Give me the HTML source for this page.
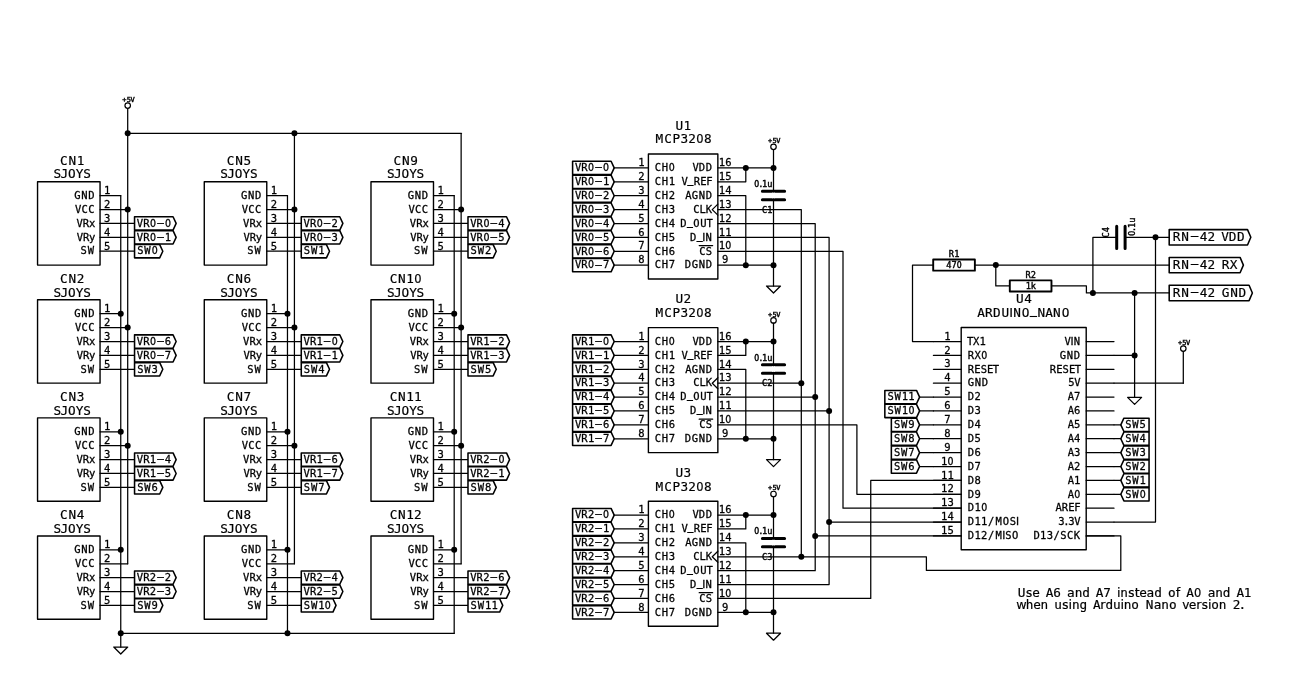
<!DOCTYPE html>
<html><head><meta charset="utf-8"><title>Joystick ADC schematic</title>
<style>
html,body{margin:0;padding:0;background:#fff;}
body{width:1300px;height:700px;overflow:hidden;}
svg{display:block;will-change:transform;filter:grayscale(1);}
.t{font-family:"DejaVu Sans Mono","Liberation Mono",monospace;fill:#000;text-anchor:middle;stroke:#000;stroke-width:0.28px;}
.b{stroke-width:0.4px;}
.n{stroke-width:0.18px;}
.z{font-family:"DejaVu Sans",sans-serif;}
.zb{font-family:"DejaVu Sans Condensed","DejaVu Sans",sans-serif;}
.u{stroke:#000;stroke-width:0.6px;}
.w{fill:none;stroke:#000;stroke-width:1.25px;stroke-linecap:round;stroke-linejoin:round;}
.bx{fill:none;stroke:#000;stroke-width:1.4px;stroke-linejoin:round;}
.rs{fill:#fff;stroke:#000;stroke-width:1.9px;stroke-linejoin:round;}
.lb{fill:#fff;stroke:#000;stroke-width:1.55px;stroke-linejoin:round;}
.cap{fill:none;stroke:#000;stroke-width:3px;stroke-linecap:round;}
.j{fill:#000;stroke:none;}
.pc{fill:#fff;stroke:#000;stroke-width:1.2px;}
</style></head>
<body>
<svg width="1300" height="700" viewBox="0 0 1300 700">
<rect x="0" y="0" width="1300" height="700" fill="#fff"/>
<rect class="bx" x="37.55" y="181.75" width="62.5" height="83.34"/>
<text class="t n" transform="translate(72.15 164.55)" font-size="12.71" x="-8.21 0.2 8.4" y="0">CN1</text>
<text class="t n" transform="translate(72.15 178.45)" font-size="12.71" x="-14.85 -7.82 -0.39 7.43 14.85" y="0">SJOYS</text>
<text class="t" transform="translate(94.85 195.65)" font-size="10.5" x="-17.43 -10.42 -3.42" y="3.28">GND</text>
<text class="t" transform="translate(107.25 194.15)" font-size="10.5" x="0" y="0">1</text>
<path class="w" d="M100.05 195.65 L120.75 195.65"/>
<text class="t" transform="translate(94.85 209.54)" font-size="10.5" x="-16.61 -10.26 -3.42" y="3.28">VCC</text>
<text class="t" transform="translate(107.25 208.04)" font-size="10.5" x="0" y="0">2</text>
<path class="w" d="M100.05 209.54 L127.7 209.54"/>
<circle class="j" cx="127.7" cy="209.54" r="3"/>
<text class="t" transform="translate(94.85 223.43)" font-size="10.5" x="-15.31 -8.96 -2.77" y="3.28">VRx</text>
<text class="t" transform="translate(107.25 221.93)" font-size="10.5" x="0" y="0">3</text>
<path class="w" d="M100.05 223.43 L134.55 223.43"/>
<path class="lb" d="M134.55 216.78 L173.05 216.78 L176.15 223.43 L173.05 230.08 L134.55 230.08 Z"/>
<text class="t" transform="translate(137.05 223.43)" font-size="10.5" x="2.93 9.28 15.96 23.45 30.95" y="3.28 3.28 3.28 2.39 3.28">VR<tspan class="zb">0</tspan><tspan textLength="14.67" lengthAdjust="spacingAndGlyphs">-</tspan><tspan class="zb">0</tspan></text>
<text class="t" transform="translate(94.85 237.32)" font-size="10.5" x="-14.98 -8.63 -2.61" y="3.28">VRy</text>
<text class="t" transform="translate(107.25 235.82)" font-size="10.5" x="0" y="0">4</text>
<path class="w" d="M100.05 237.32 L134.55 237.32"/>
<path class="lb" d="M134.55 230.67 L173.05 230.67 L176.15 237.32 L173.05 243.97 L134.55 243.97 Z"/>
<text class="t" transform="translate(137.05 237.32)" font-size="10.5" x="2.93 9.28 15.96 23.45 30.95" y="3.28 3.28 3.28 2.39 3.28">VR<tspan class="zb">0</tspan><tspan textLength="14.67" lengthAdjust="spacingAndGlyphs">-</tspan>1</text>
<text class="t" transform="translate(94.85 251.21)" font-size="10.5" x="-11.08 -3.91" y="3.28">SW</text>
<text class="t" transform="translate(107.25 249.71)" font-size="10.5" x="0" y="0">5</text>
<path class="w" d="M100.05 251.21 L134.55 251.21"/>
<path class="lb" d="M134.55 244.56 L159.7 244.56 L162.8 251.21 L159.7 257.86 L134.55 257.86 Z"/>
<text class="t" transform="translate(137.05 251.21)" font-size="10.5" x="3.26 10.42 17.59" y="3.28">SW<tspan class="zb">0</tspan></text>
<rect class="bx" x="37.55" y="299.82" width="62.5" height="83.34"/>
<text class="t n" transform="translate(72.15 282.62)" font-size="12.71" x="-8.21 0.2 8.4" y="0">CN2</text>
<text class="t n" transform="translate(72.15 296.52)" font-size="12.71" x="-14.85 -7.82 -0.39 7.43 14.85" y="0">SJOYS</text>
<text class="t" transform="translate(94.85 313.72)" font-size="10.5" x="-17.43 -10.42 -3.42" y="3.28">GND</text>
<text class="t" transform="translate(107.25 312.22)" font-size="10.5" x="0" y="0">1</text>
<path class="w" d="M100.05 313.72 L120.75 313.72"/>
<circle class="j" cx="120.75" cy="313.72" r="3"/>
<text class="t" transform="translate(94.85 327.61)" font-size="10.5" x="-16.61 -10.26 -3.42" y="3.28">VCC</text>
<text class="t" transform="translate(107.25 326.11)" font-size="10.5" x="0" y="0">2</text>
<path class="w" d="M100.05 327.61 L127.7 327.61"/>
<circle class="j" cx="127.7" cy="327.61" r="3"/>
<text class="t" transform="translate(94.85 341.5)" font-size="10.5" x="-15.31 -8.96 -2.77" y="3.28">VRx</text>
<text class="t" transform="translate(107.25 340)" font-size="10.5" x="0" y="0">3</text>
<path class="w" d="M100.05 341.5 L134.55 341.5"/>
<path class="lb" d="M134.55 334.85 L173.05 334.85 L176.15 341.5 L173.05 348.15 L134.55 348.15 Z"/>
<text class="t" transform="translate(137.05 341.5)" font-size="10.5" x="2.93 9.28 15.96 23.45 30.95" y="3.28 3.28 3.28 2.39 3.28">VR<tspan class="zb">0</tspan><tspan textLength="14.67" lengthAdjust="spacingAndGlyphs">-</tspan>6</text>
<text class="t" transform="translate(94.85 355.39)" font-size="10.5" x="-14.98 -8.63 -2.61" y="3.28">VRy</text>
<text class="t" transform="translate(107.25 353.89)" font-size="10.5" x="0" y="0">4</text>
<path class="w" d="M100.05 355.39 L134.55 355.39"/>
<path class="lb" d="M134.55 348.74 L173.05 348.74 L176.15 355.39 L173.05 362.04 L134.55 362.04 Z"/>
<text class="t" transform="translate(137.05 355.39)" font-size="10.5" x="2.93 9.28 15.96 23.45 30.95" y="3.28 3.28 3.28 2.39 3.28">VR<tspan class="zb">0</tspan><tspan textLength="14.67" lengthAdjust="spacingAndGlyphs">-</tspan>7</text>
<text class="t" transform="translate(94.85 369.28)" font-size="10.5" x="-11.08 -3.91" y="3.28">SW</text>
<text class="t" transform="translate(107.25 367.78)" font-size="10.5" x="0" y="0">5</text>
<path class="w" d="M100.05 369.28 L134.55 369.28"/>
<path class="lb" d="M134.55 362.63 L159.7 362.63 L162.8 369.28 L159.7 375.93 L134.55 375.93 Z"/>
<text class="t" transform="translate(137.05 369.28)" font-size="10.5" x="3.26 10.42 17.59" y="3.28">SW3</text>
<rect class="bx" x="37.55" y="417.89" width="62.5" height="83.34"/>
<text class="t n" transform="translate(72.15 400.69)" font-size="12.71" x="-8.21 0.2 8.4" y="0">CN3</text>
<text class="t n" transform="translate(72.15 414.59)" font-size="12.71" x="-14.85 -7.82 -0.39 7.43 14.85" y="0">SJOYS</text>
<text class="t" transform="translate(94.85 431.79)" font-size="10.5" x="-17.43 -10.42 -3.42" y="3.28">GND</text>
<text class="t" transform="translate(107.25 430.29)" font-size="10.5" x="0" y="0">1</text>
<path class="w" d="M100.05 431.79 L120.75 431.79"/>
<circle class="j" cx="120.75" cy="431.79" r="3"/>
<text class="t" transform="translate(94.85 445.68)" font-size="10.5" x="-16.61 -10.26 -3.42" y="3.28">VCC</text>
<text class="t" transform="translate(107.25 444.18)" font-size="10.5" x="0" y="0">2</text>
<path class="w" d="M100.05 445.68 L127.7 445.68"/>
<circle class="j" cx="127.7" cy="445.68" r="3"/>
<text class="t" transform="translate(94.85 459.57)" font-size="10.5" x="-15.31 -8.96 -2.77" y="3.28">VRx</text>
<text class="t" transform="translate(107.25 458.07)" font-size="10.5" x="0" y="0">3</text>
<path class="w" d="M100.05 459.57 L134.55 459.57"/>
<path class="lb" d="M134.55 452.92 L173.05 452.92 L176.15 459.57 L173.05 466.22 L134.55 466.22 Z"/>
<text class="t" transform="translate(137.05 459.57)" font-size="10.5" x="2.93 9.28 15.96 23.45 30.95" y="3.28 3.28 3.28 2.39 3.28">VR1<tspan textLength="14.67" lengthAdjust="spacingAndGlyphs">-</tspan>4</text>
<text class="t" transform="translate(94.85 473.46)" font-size="10.5" x="-14.98 -8.63 -2.61" y="3.28">VRy</text>
<text class="t" transform="translate(107.25 471.96)" font-size="10.5" x="0" y="0">4</text>
<path class="w" d="M100.05 473.46 L134.55 473.46"/>
<path class="lb" d="M134.55 466.81 L173.05 466.81 L176.15 473.46 L173.05 480.11 L134.55 480.11 Z"/>
<text class="t" transform="translate(137.05 473.46)" font-size="10.5" x="2.93 9.28 15.96 23.45 30.95" y="3.28 3.28 3.28 2.39 3.28">VR1<tspan textLength="14.67" lengthAdjust="spacingAndGlyphs">-</tspan>5</text>
<text class="t" transform="translate(94.85 487.35)" font-size="10.5" x="-11.08 -3.91" y="3.28">SW</text>
<text class="t" transform="translate(107.25 485.85)" font-size="10.5" x="0" y="0">5</text>
<path class="w" d="M100.05 487.35 L134.55 487.35"/>
<path class="lb" d="M134.55 480.7 L159.7 480.7 L162.8 487.35 L159.7 494 L134.55 494 Z"/>
<text class="t" transform="translate(137.05 487.35)" font-size="10.5" x="3.26 10.42 17.59" y="3.28">SW6</text>
<rect class="bx" x="37.55" y="535.96" width="62.5" height="83.34"/>
<text class="t n" transform="translate(72.15 518.76)" font-size="12.71" x="-8.21 0.2 8.4" y="0">CN4</text>
<text class="t n" transform="translate(72.15 532.66)" font-size="12.71" x="-14.85 -7.82 -0.39 7.43 14.85" y="0">SJOYS</text>
<text class="t" transform="translate(94.85 549.86)" font-size="10.5" x="-17.43 -10.42 -3.42" y="3.28">GND</text>
<text class="t" transform="translate(107.25 548.36)" font-size="10.5" x="0" y="0">1</text>
<path class="w" d="M100.05 549.86 L120.75 549.86"/>
<circle class="j" cx="120.75" cy="549.86" r="3"/>
<text class="t" transform="translate(94.85 563.75)" font-size="10.5" x="-16.61 -10.26 -3.42" y="3.28">VCC</text>
<text class="t" transform="translate(107.25 562.25)" font-size="10.5" x="0" y="0">2</text>
<path class="w" d="M100.05 563.75 L127.7 563.75"/>
<text class="t" transform="translate(94.85 577.64)" font-size="10.5" x="-15.31 -8.96 -2.77" y="3.28">VRx</text>
<text class="t" transform="translate(107.25 576.14)" font-size="10.5" x="0" y="0">3</text>
<path class="w" d="M100.05 577.64 L134.55 577.64"/>
<path class="lb" d="M134.55 570.99 L173.05 570.99 L176.15 577.64 L173.05 584.29 L134.55 584.29 Z"/>
<text class="t" transform="translate(137.05 577.64)" font-size="10.5" x="2.93 9.28 15.96 23.45 30.95" y="3.28 3.28 3.28 2.39 3.28">VR2<tspan textLength="14.67" lengthAdjust="spacingAndGlyphs">-</tspan>2</text>
<text class="t" transform="translate(94.85 591.53)" font-size="10.5" x="-14.98 -8.63 -2.61" y="3.28">VRy</text>
<text class="t" transform="translate(107.25 590.03)" font-size="10.5" x="0" y="0">4</text>
<path class="w" d="M100.05 591.53 L134.55 591.53"/>
<path class="lb" d="M134.55 584.88 L173.05 584.88 L176.15 591.53 L173.05 598.18 L134.55 598.18 Z"/>
<text class="t" transform="translate(137.05 591.53)" font-size="10.5" x="2.93 9.28 15.96 23.45 30.95" y="3.28 3.28 3.28 2.39 3.28">VR2<tspan textLength="14.67" lengthAdjust="spacingAndGlyphs">-</tspan>3</text>
<text class="t" transform="translate(94.85 605.42)" font-size="10.5" x="-11.08 -3.91" y="3.28">SW</text>
<text class="t" transform="translate(107.25 603.92)" font-size="10.5" x="0" y="0">5</text>
<path class="w" d="M100.05 605.42 L134.55 605.42"/>
<path class="lb" d="M134.55 598.77 L159.7 598.77 L162.8 605.42 L159.7 612.07 L134.55 612.07 Z"/>
<text class="t" transform="translate(137.05 605.42)" font-size="10.5" x="3.26 10.42 17.59" y="3.28">SW9</text>
<path class="w" d="M120.75 195.65 L120.75 647"/>
<path class="w" d="M127.7 108.4 L127.7 563.75"/>
<circle class="j" cx="127.7" cy="133.3" r="3"/>
<circle class="j" cx="120.75" cy="633.3" r="3"/>
<rect class="bx" x="204.27" y="181.75" width="62.5" height="83.34"/>
<text class="t n" transform="translate(238.87 164.55)" font-size="12.71" x="-8.21 0.2 8.4" y="0">CN5</text>
<text class="t n" transform="translate(238.87 178.45)" font-size="12.71" x="-14.85 -7.82 -0.39 7.43 14.85" y="0">SJOYS</text>
<text class="t" transform="translate(261.57 195.65)" font-size="10.5" x="-17.43 -10.42 -3.42" y="3.28">GND</text>
<text class="t" transform="translate(273.97 194.15)" font-size="10.5" x="0" y="0">1</text>
<path class="w" d="M266.77 195.65 L287.47 195.65"/>
<text class="t" transform="translate(261.57 209.54)" font-size="10.5" x="-16.61 -10.26 -3.42" y="3.28">VCC</text>
<text class="t" transform="translate(273.97 208.04)" font-size="10.5" x="0" y="0">2</text>
<path class="w" d="M266.77 209.54 L294.42 209.54"/>
<circle class="j" cx="294.42" cy="209.54" r="3"/>
<text class="t" transform="translate(261.57 223.43)" font-size="10.5" x="-15.31 -8.96 -2.77" y="3.28">VRx</text>
<text class="t" transform="translate(273.97 221.93)" font-size="10.5" x="0" y="0">3</text>
<path class="w" d="M266.77 223.43 L301.27 223.43"/>
<path class="lb" d="M301.27 216.78 L339.77 216.78 L342.87 223.43 L339.77 230.08 L301.27 230.08 Z"/>
<text class="t" transform="translate(303.77 223.43)" font-size="10.5" x="2.93 9.28 15.96 23.45 30.95" y="3.28 3.28 3.28 2.39 3.28">VR<tspan class="zb">0</tspan><tspan textLength="14.67" lengthAdjust="spacingAndGlyphs">-</tspan>2</text>
<text class="t" transform="translate(261.57 237.32)" font-size="10.5" x="-14.98 -8.63 -2.61" y="3.28">VRy</text>
<text class="t" transform="translate(273.97 235.82)" font-size="10.5" x="0" y="0">4</text>
<path class="w" d="M266.77 237.32 L301.27 237.32"/>
<path class="lb" d="M301.27 230.67 L339.77 230.67 L342.87 237.32 L339.77 243.97 L301.27 243.97 Z"/>
<text class="t" transform="translate(303.77 237.32)" font-size="10.5" x="2.93 9.28 15.96 23.45 30.95" y="3.28 3.28 3.28 2.39 3.28">VR<tspan class="zb">0</tspan><tspan textLength="14.67" lengthAdjust="spacingAndGlyphs">-</tspan>3</text>
<text class="t" transform="translate(261.57 251.21)" font-size="10.5" x="-11.08 -3.91" y="3.28">SW</text>
<text class="t" transform="translate(273.97 249.71)" font-size="10.5" x="0" y="0">5</text>
<path class="w" d="M266.77 251.21 L301.27 251.21"/>
<path class="lb" d="M301.27 244.56 L326.42 244.56 L329.52 251.21 L326.42 257.86 L301.27 257.86 Z"/>
<text class="t" transform="translate(303.77 251.21)" font-size="10.5" x="3.26 10.42 17.59" y="3.28">SW1</text>
<rect class="bx" x="204.27" y="299.82" width="62.5" height="83.34"/>
<text class="t n" transform="translate(238.87 282.62)" font-size="12.71" x="-8.21 0.2 8.4" y="0">CN6</text>
<text class="t n" transform="translate(238.87 296.52)" font-size="12.71" x="-14.85 -7.82 -0.39 7.43 14.85" y="0">SJOYS</text>
<text class="t" transform="translate(261.57 313.72)" font-size="10.5" x="-17.43 -10.42 -3.42" y="3.28">GND</text>
<text class="t" transform="translate(273.97 312.22)" font-size="10.5" x="0" y="0">1</text>
<path class="w" d="M266.77 313.72 L287.47 313.72"/>
<circle class="j" cx="287.47" cy="313.72" r="3"/>
<text class="t" transform="translate(261.57 327.61)" font-size="10.5" x="-16.61 -10.26 -3.42" y="3.28">VCC</text>
<text class="t" transform="translate(273.97 326.11)" font-size="10.5" x="0" y="0">2</text>
<path class="w" d="M266.77 327.61 L294.42 327.61"/>
<circle class="j" cx="294.42" cy="327.61" r="3"/>
<text class="t" transform="translate(261.57 341.5)" font-size="10.5" x="-15.31 -8.96 -2.77" y="3.28">VRx</text>
<text class="t" transform="translate(273.97 340)" font-size="10.5" x="0" y="0">3</text>
<path class="w" d="M266.77 341.5 L301.27 341.5"/>
<path class="lb" d="M301.27 334.85 L339.77 334.85 L342.87 341.5 L339.77 348.15 L301.27 348.15 Z"/>
<text class="t" transform="translate(303.77 341.5)" font-size="10.5" x="2.93 9.28 15.96 23.45 30.95" y="3.28 3.28 3.28 2.39 3.28">VR1<tspan textLength="14.67" lengthAdjust="spacingAndGlyphs">-</tspan><tspan class="zb">0</tspan></text>
<text class="t" transform="translate(261.57 355.39)" font-size="10.5" x="-14.98 -8.63 -2.61" y="3.28">VRy</text>
<text class="t" transform="translate(273.97 353.89)" font-size="10.5" x="0" y="0">4</text>
<path class="w" d="M266.77 355.39 L301.27 355.39"/>
<path class="lb" d="M301.27 348.74 L339.77 348.74 L342.87 355.39 L339.77 362.04 L301.27 362.04 Z"/>
<text class="t" transform="translate(303.77 355.39)" font-size="10.5" x="2.93 9.28 15.96 23.45 30.95" y="3.28 3.28 3.28 2.39 3.28">VR1<tspan textLength="14.67" lengthAdjust="spacingAndGlyphs">-</tspan>1</text>
<text class="t" transform="translate(261.57 369.28)" font-size="10.5" x="-11.08 -3.91" y="3.28">SW</text>
<text class="t" transform="translate(273.97 367.78)" font-size="10.5" x="0" y="0">5</text>
<path class="w" d="M266.77 369.28 L301.27 369.28"/>
<path class="lb" d="M301.27 362.63 L326.42 362.63 L329.52 369.28 L326.42 375.93 L301.27 375.93 Z"/>
<text class="t" transform="translate(303.77 369.28)" font-size="10.5" x="3.26 10.42 17.59" y="3.28">SW4</text>
<rect class="bx" x="204.27" y="417.89" width="62.5" height="83.34"/>
<text class="t n" transform="translate(238.87 400.69)" font-size="12.71" x="-8.21 0.2 8.4" y="0">CN7</text>
<text class="t n" transform="translate(238.87 414.59)" font-size="12.71" x="-14.85 -7.82 -0.39 7.43 14.85" y="0">SJOYS</text>
<text class="t" transform="translate(261.57 431.79)" font-size="10.5" x="-17.43 -10.42 -3.42" y="3.28">GND</text>
<text class="t" transform="translate(273.97 430.29)" font-size="10.5" x="0" y="0">1</text>
<path class="w" d="M266.77 431.79 L287.47 431.79"/>
<circle class="j" cx="287.47" cy="431.79" r="3"/>
<text class="t" transform="translate(261.57 445.68)" font-size="10.5" x="-16.61 -10.26 -3.42" y="3.28">VCC</text>
<text class="t" transform="translate(273.97 444.18)" font-size="10.5" x="0" y="0">2</text>
<path class="w" d="M266.77 445.68 L294.42 445.68"/>
<circle class="j" cx="294.42" cy="445.68" r="3"/>
<text class="t" transform="translate(261.57 459.57)" font-size="10.5" x="-15.31 -8.96 -2.77" y="3.28">VRx</text>
<text class="t" transform="translate(273.97 458.07)" font-size="10.5" x="0" y="0">3</text>
<path class="w" d="M266.77 459.57 L301.27 459.57"/>
<path class="lb" d="M301.27 452.92 L339.77 452.92 L342.87 459.57 L339.77 466.22 L301.27 466.22 Z"/>
<text class="t" transform="translate(303.77 459.57)" font-size="10.5" x="2.93 9.28 15.96 23.45 30.95" y="3.28 3.28 3.28 2.39 3.28">VR1<tspan textLength="14.67" lengthAdjust="spacingAndGlyphs">-</tspan>6</text>
<text class="t" transform="translate(261.57 473.46)" font-size="10.5" x="-14.98 -8.63 -2.61" y="3.28">VRy</text>
<text class="t" transform="translate(273.97 471.96)" font-size="10.5" x="0" y="0">4</text>
<path class="w" d="M266.77 473.46 L301.27 473.46"/>
<path class="lb" d="M301.27 466.81 L339.77 466.81 L342.87 473.46 L339.77 480.11 L301.27 480.11 Z"/>
<text class="t" transform="translate(303.77 473.46)" font-size="10.5" x="2.93 9.28 15.96 23.45 30.95" y="3.28 3.28 3.28 2.39 3.28">VR1<tspan textLength="14.67" lengthAdjust="spacingAndGlyphs">-</tspan>7</text>
<text class="t" transform="translate(261.57 487.35)" font-size="10.5" x="-11.08 -3.91" y="3.28">SW</text>
<text class="t" transform="translate(273.97 485.85)" font-size="10.5" x="0" y="0">5</text>
<path class="w" d="M266.77 487.35 L301.27 487.35"/>
<path class="lb" d="M301.27 480.7 L326.42 480.7 L329.52 487.35 L326.42 494 L301.27 494 Z"/>
<text class="t" transform="translate(303.77 487.35)" font-size="10.5" x="3.26 10.42 17.59" y="3.28">SW7</text>
<rect class="bx" x="204.27" y="535.96" width="62.5" height="83.34"/>
<text class="t n" transform="translate(238.87 518.76)" font-size="12.71" x="-8.21 0.2 8.4" y="0">CN8</text>
<text class="t n" transform="translate(238.87 532.66)" font-size="12.71" x="-14.85 -7.82 -0.39 7.43 14.85" y="0">SJOYS</text>
<text class="t" transform="translate(261.57 549.86)" font-size="10.5" x="-17.43 -10.42 -3.42" y="3.28">GND</text>
<text class="t" transform="translate(273.97 548.36)" font-size="10.5" x="0" y="0">1</text>
<path class="w" d="M266.77 549.86 L287.47 549.86"/>
<circle class="j" cx="287.47" cy="549.86" r="3"/>
<text class="t" transform="translate(261.57 563.75)" font-size="10.5" x="-16.61 -10.26 -3.42" y="3.28">VCC</text>
<text class="t" transform="translate(273.97 562.25)" font-size="10.5" x="0" y="0">2</text>
<path class="w" d="M266.77 563.75 L294.42 563.75"/>
<text class="t" transform="translate(261.57 577.64)" font-size="10.5" x="-15.31 -8.96 -2.77" y="3.28">VRx</text>
<text class="t" transform="translate(273.97 576.14)" font-size="10.5" x="0" y="0">3</text>
<path class="w" d="M266.77 577.64 L301.27 577.64"/>
<path class="lb" d="M301.27 570.99 L339.77 570.99 L342.87 577.64 L339.77 584.29 L301.27 584.29 Z"/>
<text class="t" transform="translate(303.77 577.64)" font-size="10.5" x="2.93 9.28 15.96 23.45 30.95" y="3.28 3.28 3.28 2.39 3.28">VR2<tspan textLength="14.67" lengthAdjust="spacingAndGlyphs">-</tspan>4</text>
<text class="t" transform="translate(261.57 591.53)" font-size="10.5" x="-14.98 -8.63 -2.61" y="3.28">VRy</text>
<text class="t" transform="translate(273.97 590.03)" font-size="10.5" x="0" y="0">4</text>
<path class="w" d="M266.77 591.53 L301.27 591.53"/>
<path class="lb" d="M301.27 584.88 L339.77 584.88 L342.87 591.53 L339.77 598.18 L301.27 598.18 Z"/>
<text class="t" transform="translate(303.77 591.53)" font-size="10.5" x="2.93 9.28 15.96 23.45 30.95" y="3.28 3.28 3.28 2.39 3.28">VR2<tspan textLength="14.67" lengthAdjust="spacingAndGlyphs">-</tspan>5</text>
<text class="t" transform="translate(261.57 605.42)" font-size="10.5" x="-11.08 -3.91" y="3.28">SW</text>
<text class="t" transform="translate(273.97 603.92)" font-size="10.5" x="0" y="0">5</text>
<path class="w" d="M266.77 605.42 L301.27 605.42"/>
<path class="lb" d="M301.27 598.77 L332.93 598.77 L336.03 605.42 L332.93 612.07 L301.27 612.07 Z"/>
<text class="t" transform="translate(303.77 605.42)" font-size="10.5" x="3.26 10.42 17.59 24.11" y="3.28">SW1<tspan class="zb">0</tspan></text>
<path class="w" d="M287.47 195.65 L287.47 633.3"/>
<path class="w" d="M294.42 133.3 L294.42 563.75"/>
<circle class="j" cx="294.42" cy="133.3" r="3"/>
<circle class="j" cx="287.47" cy="633.3" r="3"/>
<rect class="bx" x="370.99" y="181.75" width="62.5" height="83.34"/>
<text class="t n" transform="translate(405.59 164.55)" font-size="12.71" x="-8.21 0.2 8.4" y="0">CN9</text>
<text class="t n" transform="translate(405.59 178.45)" font-size="12.71" x="-14.85 -7.82 -0.39 7.43 14.85" y="0">SJOYS</text>
<text class="t" transform="translate(428.3 195.65)" font-size="10.5" x="-17.43 -10.42 -3.42" y="3.28">GND</text>
<text class="t" transform="translate(440.69 194.15)" font-size="10.5" x="0" y="0">1</text>
<path class="w" d="M433.5 195.65 L454.19 195.65"/>
<text class="t" transform="translate(428.3 209.54)" font-size="10.5" x="-16.61 -10.26 -3.42" y="3.28">VCC</text>
<text class="t" transform="translate(440.69 208.04)" font-size="10.5" x="0" y="0">2</text>
<path class="w" d="M433.5 209.54 L461.14 209.54"/>
<circle class="j" cx="461.14" cy="209.54" r="3"/>
<text class="t" transform="translate(428.3 223.43)" font-size="10.5" x="-15.31 -8.96 -2.77" y="3.28">VRx</text>
<text class="t" transform="translate(440.69 221.93)" font-size="10.5" x="0" y="0">3</text>
<path class="w" d="M433.5 223.43 L467.99 223.43"/>
<path class="lb" d="M467.99 216.78 L506.49 216.78 L509.59 223.43 L506.49 230.08 L467.99 230.08 Z"/>
<text class="t" transform="translate(470.49 223.43)" font-size="10.5" x="2.93 9.28 15.96 23.45 30.95" y="3.28 3.28 3.28 2.39 3.28">VR<tspan class="zb">0</tspan><tspan textLength="14.67" lengthAdjust="spacingAndGlyphs">-</tspan>4</text>
<text class="t" transform="translate(428.3 237.32)" font-size="10.5" x="-14.98 -8.63 -2.61" y="3.28">VRy</text>
<text class="t" transform="translate(440.69 235.82)" font-size="10.5" x="0" y="0">4</text>
<path class="w" d="M433.5 237.32 L467.99 237.32"/>
<path class="lb" d="M467.99 230.67 L506.49 230.67 L509.59 237.32 L506.49 243.97 L467.99 243.97 Z"/>
<text class="t" transform="translate(470.49 237.32)" font-size="10.5" x="2.93 9.28 15.96 23.45 30.95" y="3.28 3.28 3.28 2.39 3.28">VR<tspan class="zb">0</tspan><tspan textLength="14.67" lengthAdjust="spacingAndGlyphs">-</tspan>5</text>
<text class="t" transform="translate(428.3 251.21)" font-size="10.5" x="-11.08 -3.91" y="3.28">SW</text>
<text class="t" transform="translate(440.69 249.71)" font-size="10.5" x="0" y="0">5</text>
<path class="w" d="M433.5 251.21 L467.99 251.21"/>
<path class="lb" d="M467.99 244.56 L493.14 244.56 L496.24 251.21 L493.14 257.86 L467.99 257.86 Z"/>
<text class="t" transform="translate(470.49 251.21)" font-size="10.5" x="3.26 10.42 17.59" y="3.28">SW2</text>
<rect class="bx" x="370.99" y="299.82" width="62.5" height="83.34"/>
<text class="t n" transform="translate(405.59 282.62)" font-size="12.71" x="-12.12 -3.71 4.5 12.31" y="0">CN1<tspan class="zb">0</tspan></text>
<text class="t n" transform="translate(405.59 296.52)" font-size="12.71" x="-14.85 -7.82 -0.39 7.43 14.85" y="0">SJOYS</text>
<text class="t" transform="translate(428.3 313.72)" font-size="10.5" x="-17.43 -10.42 -3.42" y="3.28">GND</text>
<text class="t" transform="translate(440.69 312.22)" font-size="10.5" x="0" y="0">1</text>
<path class="w" d="M433.5 313.72 L454.19 313.72"/>
<circle class="j" cx="454.19" cy="313.72" r="3"/>
<text class="t" transform="translate(428.3 327.61)" font-size="10.5" x="-16.61 -10.26 -3.42" y="3.28">VCC</text>
<text class="t" transform="translate(440.69 326.11)" font-size="10.5" x="0" y="0">2</text>
<path class="w" d="M433.5 327.61 L461.14 327.61"/>
<circle class="j" cx="461.14" cy="327.61" r="3"/>
<text class="t" transform="translate(428.3 341.5)" font-size="10.5" x="-15.31 -8.96 -2.77" y="3.28">VRx</text>
<text class="t" transform="translate(440.69 340)" font-size="10.5" x="0" y="0">3</text>
<path class="w" d="M433.5 341.5 L467.99 341.5"/>
<path class="lb" d="M467.99 334.85 L506.49 334.85 L509.59 341.5 L506.49 348.15 L467.99 348.15 Z"/>
<text class="t" transform="translate(470.49 341.5)" font-size="10.5" x="2.93 9.28 15.96 23.45 30.95" y="3.28 3.28 3.28 2.39 3.28">VR1<tspan textLength="14.67" lengthAdjust="spacingAndGlyphs">-</tspan>2</text>
<text class="t" transform="translate(428.3 355.39)" font-size="10.5" x="-14.98 -8.63 -2.61" y="3.28">VRy</text>
<text class="t" transform="translate(440.69 353.89)" font-size="10.5" x="0" y="0">4</text>
<path class="w" d="M433.5 355.39 L467.99 355.39"/>
<path class="lb" d="M467.99 348.74 L506.49 348.74 L509.59 355.39 L506.49 362.04 L467.99 362.04 Z"/>
<text class="t" transform="translate(470.49 355.39)" font-size="10.5" x="2.93 9.28 15.96 23.45 30.95" y="3.28 3.28 3.28 2.39 3.28">VR1<tspan textLength="14.67" lengthAdjust="spacingAndGlyphs">-</tspan>3</text>
<text class="t" transform="translate(428.3 369.28)" font-size="10.5" x="-11.08 -3.91" y="3.28">SW</text>
<text class="t" transform="translate(440.69 367.78)" font-size="10.5" x="0" y="0">5</text>
<path class="w" d="M433.5 369.28 L467.99 369.28"/>
<path class="lb" d="M467.99 362.63 L493.14 362.63 L496.24 369.28 L493.14 375.93 L467.99 375.93 Z"/>
<text class="t" transform="translate(470.49 369.28)" font-size="10.5" x="3.26 10.42 17.59" y="3.28">SW5</text>
<rect class="bx" x="370.99" y="417.89" width="62.5" height="83.34"/>
<text class="t n" transform="translate(405.59 400.69)" font-size="12.71" x="-12.12 -3.71 4.5 12.31" y="0">CN11</text>
<text class="t n" transform="translate(405.59 414.59)" font-size="12.71" x="-14.85 -7.82 -0.39 7.43 14.85" y="0">SJOYS</text>
<text class="t" transform="translate(428.3 431.79)" font-size="10.5" x="-17.43 -10.42 -3.42" y="3.28">GND</text>
<text class="t" transform="translate(440.69 430.29)" font-size="10.5" x="0" y="0">1</text>
<path class="w" d="M433.5 431.79 L454.19 431.79"/>
<circle class="j" cx="454.19" cy="431.79" r="3"/>
<text class="t" transform="translate(428.3 445.68)" font-size="10.5" x="-16.61 -10.26 -3.42" y="3.28">VCC</text>
<text class="t" transform="translate(440.69 444.18)" font-size="10.5" x="0" y="0">2</text>
<path class="w" d="M433.5 445.68 L461.14 445.68"/>
<circle class="j" cx="461.14" cy="445.68" r="3"/>
<text class="t" transform="translate(428.3 459.57)" font-size="10.5" x="-15.31 -8.96 -2.77" y="3.28">VRx</text>
<text class="t" transform="translate(440.69 458.07)" font-size="10.5" x="0" y="0">3</text>
<path class="w" d="M433.5 459.57 L467.99 459.57"/>
<path class="lb" d="M467.99 452.92 L506.49 452.92 L509.59 459.57 L506.49 466.22 L467.99 466.22 Z"/>
<text class="t" transform="translate(470.49 459.57)" font-size="10.5" x="2.93 9.28 15.96 23.45 30.95" y="3.28 3.28 3.28 2.39 3.28">VR2<tspan textLength="14.67" lengthAdjust="spacingAndGlyphs">-</tspan><tspan class="zb">0</tspan></text>
<text class="t" transform="translate(428.3 473.46)" font-size="10.5" x="-14.98 -8.63 -2.61" y="3.28">VRy</text>
<text class="t" transform="translate(440.69 471.96)" font-size="10.5" x="0" y="0">4</text>
<path class="w" d="M433.5 473.46 L467.99 473.46"/>
<path class="lb" d="M467.99 466.81 L506.49 466.81 L509.59 473.46 L506.49 480.11 L467.99 480.11 Z"/>
<text class="t" transform="translate(470.49 473.46)" font-size="10.5" x="2.93 9.28 15.96 23.45 30.95" y="3.28 3.28 3.28 2.39 3.28">VR2<tspan textLength="14.67" lengthAdjust="spacingAndGlyphs">-</tspan>1</text>
<text class="t" transform="translate(428.3 487.35)" font-size="10.5" x="-11.08 -3.91" y="3.28">SW</text>
<text class="t" transform="translate(440.69 485.85)" font-size="10.5" x="0" y="0">5</text>
<path class="w" d="M433.5 487.35 L467.99 487.35"/>
<path class="lb" d="M467.99 480.7 L493.14 480.7 L496.24 487.35 L493.14 494 L467.99 494 Z"/>
<text class="t" transform="translate(470.49 487.35)" font-size="10.5" x="3.26 10.42 17.59" y="3.28">SW8</text>
<rect class="bx" x="370.99" y="535.96" width="62.5" height="83.34"/>
<text class="t n" transform="translate(405.59 518.76)" font-size="12.71" x="-12.12 -3.71 4.5 12.31" y="0">CN12</text>
<text class="t n" transform="translate(405.59 532.66)" font-size="12.71" x="-14.85 -7.82 -0.39 7.43 14.85" y="0">SJOYS</text>
<text class="t" transform="translate(428.3 549.86)" font-size="10.5" x="-17.43 -10.42 -3.42" y="3.28">GND</text>
<text class="t" transform="translate(440.69 548.36)" font-size="10.5" x="0" y="0">1</text>
<path class="w" d="M433.5 549.86 L454.19 549.86"/>
<circle class="j" cx="454.19" cy="549.86" r="3"/>
<text class="t" transform="translate(428.3 563.75)" font-size="10.5" x="-16.61 -10.26 -3.42" y="3.28">VCC</text>
<text class="t" transform="translate(440.69 562.25)" font-size="10.5" x="0" y="0">2</text>
<path class="w" d="M433.5 563.75 L461.14 563.75"/>
<text class="t" transform="translate(428.3 577.64)" font-size="10.5" x="-15.31 -8.96 -2.77" y="3.28">VRx</text>
<text class="t" transform="translate(440.69 576.14)" font-size="10.5" x="0" y="0">3</text>
<path class="w" d="M433.5 577.64 L467.99 577.64"/>
<path class="lb" d="M467.99 570.99 L506.49 570.99 L509.59 577.64 L506.49 584.29 L467.99 584.29 Z"/>
<text class="t" transform="translate(470.49 577.64)" font-size="10.5" x="2.93 9.28 15.96 23.45 30.95" y="3.28 3.28 3.28 2.39 3.28">VR2<tspan textLength="14.67" lengthAdjust="spacingAndGlyphs">-</tspan>6</text>
<text class="t" transform="translate(428.3 591.53)" font-size="10.5" x="-14.98 -8.63 -2.61" y="3.28">VRy</text>
<text class="t" transform="translate(440.69 590.03)" font-size="10.5" x="0" y="0">4</text>
<path class="w" d="M433.5 591.53 L467.99 591.53"/>
<path class="lb" d="M467.99 584.88 L506.49 584.88 L509.59 591.53 L506.49 598.18 L467.99 598.18 Z"/>
<text class="t" transform="translate(470.49 591.53)" font-size="10.5" x="2.93 9.28 15.96 23.45 30.95" y="3.28 3.28 3.28 2.39 3.28">VR2<tspan textLength="14.67" lengthAdjust="spacingAndGlyphs">-</tspan>7</text>
<text class="t" transform="translate(428.3 605.42)" font-size="10.5" x="-11.08 -3.91" y="3.28">SW</text>
<text class="t" transform="translate(440.69 603.92)" font-size="10.5" x="0" y="0">5</text>
<path class="w" d="M433.5 605.42 L467.99 605.42"/>
<path class="lb" d="M467.99 598.77 L499.65 598.77 L502.75 605.42 L499.65 612.07 L467.99 612.07 Z"/>
<text class="t" transform="translate(470.49 605.42)" font-size="10.5" x="3.26 10.42 17.59 24.11" y="3.28">SW11</text>
<path class="w" d="M454.19 195.65 L454.19 633.3"/>
<path class="w" d="M461.14 133.3 L461.14 563.75"/>
<path class="w" d="M127.7 133.3 L461.14 133.3"/>
<path class="w" d="M120.75 633.3 L454.19 633.3"/>
<circle class="pc" cx="127.7" cy="105.6" r="2.75"/>
<text class="t b" transform="translate(128.1 102)" font-size="7" x="-3.71 0.78 4.5" y="0">+5V</text>
<path class="w" d="M113.75 647 L127.75 647 L120.75 654 Z"/>
<rect class="bx" x="648.4" y="154.05" width="69.45" height="125.01"/>
<text class="t n" transform="translate(683.12 129.65)" font-size="12.71" x="-3.91 4.3" y="0">U1</text>
<text class="t n" transform="translate(683.12 143.35)" font-size="12.71" x="-23.85 -15.05 -6.84 1.17 8.99 16.81 24.63" y="0">MCP32<tspan class="zb">0</tspan>8</text>
<text class="t" transform="translate(654.6 167.94)" font-size="10.5" x="3.42 10.42 17.26" y="3.28">CH<tspan class="zb">0</tspan></text>
<text class="t" transform="translate(641.4 166.14)" font-size="10.5" x="0" y="0">1</text>
<path class="lb" d="M572.6 161.29 L611.1 161.29 L614.2 167.94 L611.1 174.59 L572.6 174.59 Z"/>
<text class="t" transform="translate(575.1 167.94)" font-size="10.5" x="2.93 9.28 15.96 23.45 30.95" y="3.28 3.28 3.28 2.39 3.28">VR<tspan class="zb">0</tspan><tspan textLength="14.67" lengthAdjust="spacingAndGlyphs">-</tspan><tspan class="zb">0</tspan></text>
<path class="w" d="M614.2 167.94 L648.4 167.94"/>
<text class="t" transform="translate(712.25 167.94)" font-size="10.5" x="-16.61 -10.26 -3.42" y="3.28">VDD</text>
<text class="t" transform="translate(725.05 166.14)" font-size="10.5" x="-3.26 3.26" y="0">16</text>
<text class="t" transform="translate(654.6 181.83)" font-size="10.5" x="3.42 10.42 17.26" y="3.28">CH1</text>
<text class="t" transform="translate(641.4 180.03)" font-size="10.5" x="0" y="0">2</text>
<path class="lb" d="M572.6 175.18 L611.1 175.18 L614.2 181.83 L611.1 188.48 L572.6 188.48 Z"/>
<text class="t" transform="translate(575.1 181.83)" font-size="10.5" x="2.93 9.28 15.96 23.45 30.95" y="3.28 3.28 3.28 2.39 3.28">VR<tspan class="zb">0</tspan><tspan textLength="14.67" lengthAdjust="spacingAndGlyphs">-</tspan>1</text>
<path class="w" d="M614.2 181.83 L648.4 181.83"/>
<text class="t" transform="translate(712.25 181.83)" font-size="10.5" x="-27.69 -21.83 -15.47 -8.96 -2.93" y="3.28 1.18 3.28 3.28 3.28">V<tspan class="u" textLength="5.79" lengthAdjust="spacingAndGlyphs">_</tspan>REF</text>
<text class="t" transform="translate(725.05 180.03)" font-size="10.5" x="-3.26 3.26" y="0">15</text>
<text class="t" transform="translate(654.6 195.72)" font-size="10.5" x="3.42 10.42 17.26" y="3.28">CH2</text>
<text class="t" transform="translate(641.4 193.92)" font-size="10.5" x="0" y="0">3</text>
<path class="lb" d="M572.6 189.07 L611.1 189.07 L614.2 195.72 L611.1 202.37 L572.6 202.37 Z"/>
<text class="t" transform="translate(575.1 195.72)" font-size="10.5" x="2.93 9.28 15.96 23.45 30.95" y="3.28 3.28 3.28 2.39 3.28">VR<tspan class="zb">0</tspan><tspan textLength="14.67" lengthAdjust="spacingAndGlyphs">-</tspan>2</text>
<path class="w" d="M614.2 195.72 L648.4 195.72"/>
<text class="t" transform="translate(712.25 195.72)" font-size="10.5" x="-23.78 -17.43 -10.42 -3.42" y="3.28">AGND</text>
<text class="t" transform="translate(725.05 193.92)" font-size="10.5" x="-3.26 3.26" y="0">14</text>
<text class="t" transform="translate(654.6 209.61)" font-size="10.5" x="3.42 10.42 17.26" y="3.28">CH3</text>
<text class="t" transform="translate(641.4 207.81)" font-size="10.5" x="0" y="0">4</text>
<path class="lb" d="M572.6 202.96 L611.1 202.96 L614.2 209.61 L611.1 216.26 L572.6 216.26 Z"/>
<text class="t" transform="translate(575.1 209.61)" font-size="10.5" x="2.93 9.28 15.96 23.45 30.95" y="3.28 3.28 3.28 2.39 3.28">VR<tspan class="zb">0</tspan><tspan textLength="14.67" lengthAdjust="spacingAndGlyphs">-</tspan>3</text>
<path class="w" d="M614.2 209.61 L648.4 209.61"/>
<text class="t" transform="translate(712.25 209.61)" font-size="10.5" x="-15.8 -9.61 -3.42" y="3.28">CLK</text>
<text class="t" transform="translate(725.05 207.81)" font-size="10.5" x="-3.26 3.26" y="0">13</text>
<text class="t" transform="translate(654.6 223.5)" font-size="10.5" x="3.42 10.42 17.26" y="3.28">CH4</text>
<text class="t" transform="translate(641.4 221.7)" font-size="10.5" x="0" y="0">5</text>
<path class="lb" d="M572.6 216.85 L611.1 216.85 L614.2 223.5 L611.1 230.15 L572.6 230.15 Z"/>
<text class="t" transform="translate(575.1 223.5)" font-size="10.5" x="2.93 9.28 15.96 23.45 30.95" y="3.28 3.28 3.28 2.39 3.28">VR<tspan class="zb">0</tspan><tspan textLength="14.67" lengthAdjust="spacingAndGlyphs">-</tspan>4</text>
<path class="w" d="M614.2 223.5 L648.4 223.5"/>
<text class="t" transform="translate(712.25 223.5)" font-size="10.5" x="-28.83 -22.48 -15.96 -8.8 -2.61" y="3.28 1.18 3.28 3.28 3.28">D<tspan class="u" textLength="5.79" lengthAdjust="spacingAndGlyphs">_</tspan>OUT</text>
<text class="t" transform="translate(725.05 221.7)" font-size="10.5" x="-3.26 3.26" y="0">12</text>
<text class="t" transform="translate(654.6 237.39)" font-size="10.5" x="3.42 10.42 17.26" y="3.28">CH5</text>
<text class="t" transform="translate(641.4 235.59)" font-size="10.5" x="0" y="0">6</text>
<path class="lb" d="M572.6 230.74 L611.1 230.74 L614.2 237.39 L611.1 244.04 L572.6 244.04 Z"/>
<text class="t" transform="translate(575.1 237.39)" font-size="10.5" x="2.93 9.28 15.96 23.45 30.95" y="3.28 3.28 3.28 2.39 3.28">VR<tspan class="zb">0</tspan><tspan textLength="14.67" lengthAdjust="spacingAndGlyphs">-</tspan>5</text>
<path class="w" d="M614.2 237.39 L648.4 237.39"/>
<text class="t" transform="translate(712.25 237.39)" font-size="10.5" x="-19.06 -12.7 -8.47 -3.58" y="3.28 1.18 3.28 3.28">D<tspan class="u" textLength="5.79" lengthAdjust="spacingAndGlyphs">_</tspan><tspan class="z">I</tspan>N</text>
<text class="t" transform="translate(725.05 235.59)" font-size="10.5" x="-3.26 3.26" y="0">11</text>
<text class="t" transform="translate(654.6 251.28)" font-size="10.5" x="3.42 10.42 17.26" y="3.28">CH6</text>
<text class="t" transform="translate(641.4 249.48)" font-size="10.5" x="0" y="0">7</text>
<path class="lb" d="M572.6 244.63 L611.1 244.63 L614.2 251.28 L611.1 257.93 L572.6 257.93 Z"/>
<text class="t" transform="translate(575.1 251.28)" font-size="10.5" x="2.93 9.28 15.96 23.45 30.95" y="3.28 3.28 3.28 2.39 3.28">VR<tspan class="zb">0</tspan><tspan textLength="14.67" lengthAdjust="spacingAndGlyphs">-</tspan>6</text>
<path class="w" d="M614.2 251.28 L648.4 251.28"/>
<text class="t" transform="translate(712.25 251.28)" font-size="10.5" x="-9.94 -3.26" y="3.28">CS</text>
<path class="w" d="M699.19 245.58 L712.65 245.58"/>
<text class="t" transform="translate(725.05 249.48)" font-size="10.5" x="-3.26 3.26" y="0">1<tspan class="zb">0</tspan></text>
<text class="t" transform="translate(654.6 265.17)" font-size="10.5" x="3.42 10.42 17.26" y="3.28">CH7</text>
<text class="t" transform="translate(641.4 263.37)" font-size="10.5" x="0" y="0">8</text>
<path class="lb" d="M572.6 258.52 L611.1 258.52 L614.2 265.17 L611.1 271.82 L572.6 271.82 Z"/>
<text class="t" transform="translate(575.1 265.17)" font-size="10.5" x="2.93 9.28 15.96 23.45 30.95" y="3.28 3.28 3.28 2.39 3.28">VR<tspan class="zb">0</tspan><tspan textLength="14.67" lengthAdjust="spacingAndGlyphs">-</tspan>7</text>
<path class="w" d="M614.2 265.17 L648.4 265.17"/>
<text class="t" transform="translate(712.25 265.17)" font-size="10.5" x="-24.27 -17.43 -10.42 -3.42" y="3.28">DGND</text>
<text class="t" transform="translate(725.05 263.37)" font-size="10.5" x="0" y="0">9</text>
<path class="w" d="M717.85 204.11 L712.25 209.61 L717.85 215.11"/>
<path class="w" d="M717.85 167.94 L773.5 167.94"/>
<circle class="j" cx="745.8" cy="167.94" r="3"/>
<circle class="j" cx="773.5" cy="167.94" r="3"/>
<path class="w" d="M717.85 181.83 L745.8 181.83 L745.8 167.94"/>
<path class="w" d="M717.85 195.72 L745.8 195.72 L745.8 265.17"/>
<path class="w" d="M717.85 265.17 L773.5 265.17"/>
<circle class="j" cx="745.8" cy="265.17" r="3"/>
<circle class="j" cx="773.5" cy="265.17" r="3"/>
<circle class="pc" cx="773.5" cy="146.85" r="2.75"/>
<path class="w" d="M773.5 149.6 L773.5 265.17"/>
<text class="t b" transform="translate(773.9 143.15)" font-size="7" x="-3.71 0.78 4.5" y="0">+5V</text>
<path class="w" d="M773.5 265.17 L773.5 286.05"/>
<path class="w" d="M766.5 286.05 L780.5 286.05 L773.5 293.05 Z"/>
<path class="cap" d="M762.4 191.25 H784.6 M762.4 199.65 H784.6"/>
<rect x="772" y="192.65" width="3" height="5.6" fill="#fff"/>
<text class="t b" transform="translate(772.3 186.95)" font-size="8.64" x="-15.48 -11.57 -7.66 -2.53" y="0"><tspan class="zb">0</tspan>.1u</text>
<text class="t b" transform="translate(772.5 212.75)" font-size="8.64" x="-7.95 -2.61" y="0">C1</text>
<rect class="bx" x="648.4" y="327.65" width="69.45" height="125.01"/>
<text class="t n" transform="translate(683.12 303.25)" font-size="12.71" x="-3.91 4.3" y="0">U2</text>
<text class="t n" transform="translate(683.12 316.95)" font-size="12.71" x="-23.85 -15.05 -6.84 1.17 8.99 16.81 24.63" y="0">MCP32<tspan class="zb">0</tspan>8</text>
<text class="t" transform="translate(654.6 341.54)" font-size="10.5" x="3.42 10.42 17.26" y="3.28">CH<tspan class="zb">0</tspan></text>
<text class="t" transform="translate(641.4 339.74)" font-size="10.5" x="0" y="0">1</text>
<path class="lb" d="M572.6 334.89 L611.1 334.89 L614.2 341.54 L611.1 348.19 L572.6 348.19 Z"/>
<text class="t" transform="translate(575.1 341.54)" font-size="10.5" x="2.93 9.28 15.96 23.45 30.95" y="3.28 3.28 3.28 2.39 3.28">VR1<tspan textLength="14.67" lengthAdjust="spacingAndGlyphs">-</tspan><tspan class="zb">0</tspan></text>
<path class="w" d="M614.2 341.54 L648.4 341.54"/>
<text class="t" transform="translate(712.25 341.54)" font-size="10.5" x="-16.61 -10.26 -3.42" y="3.28">VDD</text>
<text class="t" transform="translate(725.05 339.74)" font-size="10.5" x="-3.26 3.26" y="0">16</text>
<text class="t" transform="translate(654.6 355.43)" font-size="10.5" x="3.42 10.42 17.26" y="3.28">CH1</text>
<text class="t" transform="translate(641.4 353.63)" font-size="10.5" x="0" y="0">2</text>
<path class="lb" d="M572.6 348.78 L611.1 348.78 L614.2 355.43 L611.1 362.08 L572.6 362.08 Z"/>
<text class="t" transform="translate(575.1 355.43)" font-size="10.5" x="2.93 9.28 15.96 23.45 30.95" y="3.28 3.28 3.28 2.39 3.28">VR1<tspan textLength="14.67" lengthAdjust="spacingAndGlyphs">-</tspan>1</text>
<path class="w" d="M614.2 355.43 L648.4 355.43"/>
<text class="t" transform="translate(712.25 355.43)" font-size="10.5" x="-27.69 -21.83 -15.47 -8.96 -2.93" y="3.28 1.18 3.28 3.28 3.28">V<tspan class="u" textLength="5.79" lengthAdjust="spacingAndGlyphs">_</tspan>REF</text>
<text class="t" transform="translate(725.05 353.63)" font-size="10.5" x="-3.26 3.26" y="0">15</text>
<text class="t" transform="translate(654.6 369.32)" font-size="10.5" x="3.42 10.42 17.26" y="3.28">CH2</text>
<text class="t" transform="translate(641.4 367.52)" font-size="10.5" x="0" y="0">3</text>
<path class="lb" d="M572.6 362.67 L611.1 362.67 L614.2 369.32 L611.1 375.97 L572.6 375.97 Z"/>
<text class="t" transform="translate(575.1 369.32)" font-size="10.5" x="2.93 9.28 15.96 23.45 30.95" y="3.28 3.28 3.28 2.39 3.28">VR1<tspan textLength="14.67" lengthAdjust="spacingAndGlyphs">-</tspan>2</text>
<path class="w" d="M614.2 369.32 L648.4 369.32"/>
<text class="t" transform="translate(712.25 369.32)" font-size="10.5" x="-23.78 -17.43 -10.42 -3.42" y="3.28">AGND</text>
<text class="t" transform="translate(725.05 367.52)" font-size="10.5" x="-3.26 3.26" y="0">14</text>
<text class="t" transform="translate(654.6 383.21)" font-size="10.5" x="3.42 10.42 17.26" y="3.28">CH3</text>
<text class="t" transform="translate(641.4 381.41)" font-size="10.5" x="0" y="0">4</text>
<path class="lb" d="M572.6 376.56 L611.1 376.56 L614.2 383.21 L611.1 389.86 L572.6 389.86 Z"/>
<text class="t" transform="translate(575.1 383.21)" font-size="10.5" x="2.93 9.28 15.96 23.45 30.95" y="3.28 3.28 3.28 2.39 3.28">VR1<tspan textLength="14.67" lengthAdjust="spacingAndGlyphs">-</tspan>3</text>
<path class="w" d="M614.2 383.21 L648.4 383.21"/>
<text class="t" transform="translate(712.25 383.21)" font-size="10.5" x="-15.8 -9.61 -3.42" y="3.28">CLK</text>
<text class="t" transform="translate(725.05 381.41)" font-size="10.5" x="-3.26 3.26" y="0">13</text>
<text class="t" transform="translate(654.6 397.1)" font-size="10.5" x="3.42 10.42 17.26" y="3.28">CH4</text>
<text class="t" transform="translate(641.4 395.3)" font-size="10.5" x="0" y="0">5</text>
<path class="lb" d="M572.6 390.45 L611.1 390.45 L614.2 397.1 L611.1 403.75 L572.6 403.75 Z"/>
<text class="t" transform="translate(575.1 397.1)" font-size="10.5" x="2.93 9.28 15.96 23.45 30.95" y="3.28 3.28 3.28 2.39 3.28">VR1<tspan textLength="14.67" lengthAdjust="spacingAndGlyphs">-</tspan>4</text>
<path class="w" d="M614.2 397.1 L648.4 397.1"/>
<text class="t" transform="translate(712.25 397.1)" font-size="10.5" x="-28.83 -22.48 -15.96 -8.8 -2.61" y="3.28 1.18 3.28 3.28 3.28">D<tspan class="u" textLength="5.79" lengthAdjust="spacingAndGlyphs">_</tspan>OUT</text>
<text class="t" transform="translate(725.05 395.3)" font-size="10.5" x="-3.26 3.26" y="0">12</text>
<text class="t" transform="translate(654.6 410.99)" font-size="10.5" x="3.42 10.42 17.26" y="3.28">CH5</text>
<text class="t" transform="translate(641.4 409.19)" font-size="10.5" x="0" y="0">6</text>
<path class="lb" d="M572.6 404.34 L611.1 404.34 L614.2 410.99 L611.1 417.64 L572.6 417.64 Z"/>
<text class="t" transform="translate(575.1 410.99)" font-size="10.5" x="2.93 9.28 15.96 23.45 30.95" y="3.28 3.28 3.28 2.39 3.28">VR1<tspan textLength="14.67" lengthAdjust="spacingAndGlyphs">-</tspan>5</text>
<path class="w" d="M614.2 410.99 L648.4 410.99"/>
<text class="t" transform="translate(712.25 410.99)" font-size="10.5" x="-19.06 -12.7 -8.47 -3.58" y="3.28 1.18 3.28 3.28">D<tspan class="u" textLength="5.79" lengthAdjust="spacingAndGlyphs">_</tspan><tspan class="z">I</tspan>N</text>
<text class="t" transform="translate(725.05 409.19)" font-size="10.5" x="-3.26 3.26" y="0">11</text>
<text class="t" transform="translate(654.6 424.88)" font-size="10.5" x="3.42 10.42 17.26" y="3.28">CH6</text>
<text class="t" transform="translate(641.4 423.08)" font-size="10.5" x="0" y="0">7</text>
<path class="lb" d="M572.6 418.23 L611.1 418.23 L614.2 424.88 L611.1 431.53 L572.6 431.53 Z"/>
<text class="t" transform="translate(575.1 424.88)" font-size="10.5" x="2.93 9.28 15.96 23.45 30.95" y="3.28 3.28 3.28 2.39 3.28">VR1<tspan textLength="14.67" lengthAdjust="spacingAndGlyphs">-</tspan>6</text>
<path class="w" d="M614.2 424.88 L648.4 424.88"/>
<text class="t" transform="translate(712.25 424.88)" font-size="10.5" x="-9.94 -3.26" y="3.28">CS</text>
<path class="w" d="M699.19 419.18 L712.65 419.18"/>
<text class="t" transform="translate(725.05 423.08)" font-size="10.5" x="-3.26 3.26" y="0">1<tspan class="zb">0</tspan></text>
<text class="t" transform="translate(654.6 438.77)" font-size="10.5" x="3.42 10.42 17.26" y="3.28">CH7</text>
<text class="t" transform="translate(641.4 436.97)" font-size="10.5" x="0" y="0">8</text>
<path class="lb" d="M572.6 432.12 L611.1 432.12 L614.2 438.77 L611.1 445.42 L572.6 445.42 Z"/>
<text class="t" transform="translate(575.1 438.77)" font-size="10.5" x="2.93 9.28 15.96 23.45 30.95" y="3.28 3.28 3.28 2.39 3.28">VR1<tspan textLength="14.67" lengthAdjust="spacingAndGlyphs">-</tspan>7</text>
<path class="w" d="M614.2 438.77 L648.4 438.77"/>
<text class="t" transform="translate(712.25 438.77)" font-size="10.5" x="-24.27 -17.43 -10.42 -3.42" y="3.28">DGND</text>
<text class="t" transform="translate(725.05 436.97)" font-size="10.5" x="0" y="0">9</text>
<path class="w" d="M717.85 377.71 L712.25 383.21 L717.85 388.71"/>
<path class="w" d="M717.85 341.54 L773.5 341.54"/>
<circle class="j" cx="745.8" cy="341.54" r="3"/>
<circle class="j" cx="773.5" cy="341.54" r="3"/>
<path class="w" d="M717.85 355.43 L745.8 355.43 L745.8 341.54"/>
<path class="w" d="M717.85 369.32 L745.8 369.32 L745.8 438.77"/>
<path class="w" d="M717.85 438.77 L773.5 438.77"/>
<circle class="j" cx="745.8" cy="438.77" r="3"/>
<circle class="j" cx="773.5" cy="438.77" r="3"/>
<circle class="pc" cx="773.5" cy="320.45" r="2.75"/>
<path class="w" d="M773.5 323.2 L773.5 438.77"/>
<text class="t b" transform="translate(773.9 316.75)" font-size="7" x="-3.71 0.78 4.5" y="0">+5V</text>
<path class="w" d="M773.5 438.77 L773.5 459.65"/>
<path class="w" d="M766.5 459.65 L780.5 459.65 L773.5 466.65 Z"/>
<path class="cap" d="M762.4 364.85 H784.6 M762.4 373.25 H784.6"/>
<rect x="772" y="366.25" width="3" height="5.6" fill="#fff"/>
<text class="t b" transform="translate(772.3 360.55)" font-size="8.64" x="-15.48 -11.57 -7.66 -2.53" y="0"><tspan class="zb">0</tspan>.1u</text>
<text class="t b" transform="translate(772.5 386.35)" font-size="8.64" x="-7.95 -2.61" y="0">C2</text>
<rect class="bx" x="648.4" y="501.2" width="69.45" height="125.01"/>
<text class="t n" transform="translate(683.12 476.8)" font-size="12.71" x="-3.91 4.3" y="0">U3</text>
<text class="t n" transform="translate(683.12 490.5)" font-size="12.71" x="-23.85 -15.05 -6.84 1.17 8.99 16.81 24.63" y="0">MCP32<tspan class="zb">0</tspan>8</text>
<text class="t" transform="translate(654.6 515.09)" font-size="10.5" x="3.42 10.42 17.26" y="3.28">CH<tspan class="zb">0</tspan></text>
<text class="t" transform="translate(641.4 513.29)" font-size="10.5" x="0" y="0">1</text>
<path class="lb" d="M572.6 508.44 L611.1 508.44 L614.2 515.09 L611.1 521.74 L572.6 521.74 Z"/>
<text class="t" transform="translate(575.1 515.09)" font-size="10.5" x="2.93 9.28 15.96 23.45 30.95" y="3.28 3.28 3.28 2.39 3.28">VR2<tspan textLength="14.67" lengthAdjust="spacingAndGlyphs">-</tspan><tspan class="zb">0</tspan></text>
<path class="w" d="M614.2 515.09 L648.4 515.09"/>
<text class="t" transform="translate(712.25 515.09)" font-size="10.5" x="-16.61 -10.26 -3.42" y="3.28">VDD</text>
<text class="t" transform="translate(725.05 513.29)" font-size="10.5" x="-3.26 3.26" y="0">16</text>
<text class="t" transform="translate(654.6 528.98)" font-size="10.5" x="3.42 10.42 17.26" y="3.28">CH1</text>
<text class="t" transform="translate(641.4 527.18)" font-size="10.5" x="0" y="0">2</text>
<path class="lb" d="M572.6 522.33 L611.1 522.33 L614.2 528.98 L611.1 535.63 L572.6 535.63 Z"/>
<text class="t" transform="translate(575.1 528.98)" font-size="10.5" x="2.93 9.28 15.96 23.45 30.95" y="3.28 3.28 3.28 2.39 3.28">VR2<tspan textLength="14.67" lengthAdjust="spacingAndGlyphs">-</tspan>1</text>
<path class="w" d="M614.2 528.98 L648.4 528.98"/>
<text class="t" transform="translate(712.25 528.98)" font-size="10.5" x="-27.69 -21.83 -15.47 -8.96 -2.93" y="3.28 1.18 3.28 3.28 3.28">V<tspan class="u" textLength="5.79" lengthAdjust="spacingAndGlyphs">_</tspan>REF</text>
<text class="t" transform="translate(725.05 527.18)" font-size="10.5" x="-3.26 3.26" y="0">15</text>
<text class="t" transform="translate(654.6 542.87)" font-size="10.5" x="3.42 10.42 17.26" y="3.28">CH2</text>
<text class="t" transform="translate(641.4 541.07)" font-size="10.5" x="0" y="0">3</text>
<path class="lb" d="M572.6 536.22 L611.1 536.22 L614.2 542.87 L611.1 549.52 L572.6 549.52 Z"/>
<text class="t" transform="translate(575.1 542.87)" font-size="10.5" x="2.93 9.28 15.96 23.45 30.95" y="3.28 3.28 3.28 2.39 3.28">VR2<tspan textLength="14.67" lengthAdjust="spacingAndGlyphs">-</tspan>2</text>
<path class="w" d="M614.2 542.87 L648.4 542.87"/>
<text class="t" transform="translate(712.25 542.87)" font-size="10.5" x="-23.78 -17.43 -10.42 -3.42" y="3.28">AGND</text>
<text class="t" transform="translate(725.05 541.07)" font-size="10.5" x="-3.26 3.26" y="0">14</text>
<text class="t" transform="translate(654.6 556.76)" font-size="10.5" x="3.42 10.42 17.26" y="3.28">CH3</text>
<text class="t" transform="translate(641.4 554.96)" font-size="10.5" x="0" y="0">4</text>
<path class="lb" d="M572.6 550.11 L611.1 550.11 L614.2 556.76 L611.1 563.41 L572.6 563.41 Z"/>
<text class="t" transform="translate(575.1 556.76)" font-size="10.5" x="2.93 9.28 15.96 23.45 30.95" y="3.28 3.28 3.28 2.39 3.28">VR2<tspan textLength="14.67" lengthAdjust="spacingAndGlyphs">-</tspan>3</text>
<path class="w" d="M614.2 556.76 L648.4 556.76"/>
<text class="t" transform="translate(712.25 556.76)" font-size="10.5" x="-15.8 -9.61 -3.42" y="3.28">CLK</text>
<text class="t" transform="translate(725.05 554.96)" font-size="10.5" x="-3.26 3.26" y="0">13</text>
<text class="t" transform="translate(654.6 570.65)" font-size="10.5" x="3.42 10.42 17.26" y="3.28">CH4</text>
<text class="t" transform="translate(641.4 568.85)" font-size="10.5" x="0" y="0">5</text>
<path class="lb" d="M572.6 564 L611.1 564 L614.2 570.65 L611.1 577.3 L572.6 577.3 Z"/>
<text class="t" transform="translate(575.1 570.65)" font-size="10.5" x="2.93 9.28 15.96 23.45 30.95" y="3.28 3.28 3.28 2.39 3.28">VR2<tspan textLength="14.67" lengthAdjust="spacingAndGlyphs">-</tspan>4</text>
<path class="w" d="M614.2 570.65 L648.4 570.65"/>
<text class="t" transform="translate(712.25 570.65)" font-size="10.5" x="-28.83 -22.48 -15.96 -8.8 -2.61" y="3.28 1.18 3.28 3.28 3.28">D<tspan class="u" textLength="5.79" lengthAdjust="spacingAndGlyphs">_</tspan>OUT</text>
<text class="t" transform="translate(725.05 568.85)" font-size="10.5" x="-3.26 3.26" y="0">12</text>
<text class="t" transform="translate(654.6 584.54)" font-size="10.5" x="3.42 10.42 17.26" y="3.28">CH5</text>
<text class="t" transform="translate(641.4 582.74)" font-size="10.5" x="0" y="0">6</text>
<path class="lb" d="M572.6 577.89 L611.1 577.89 L614.2 584.54 L611.1 591.19 L572.6 591.19 Z"/>
<text class="t" transform="translate(575.1 584.54)" font-size="10.5" x="2.93 9.28 15.96 23.45 30.95" y="3.28 3.28 3.28 2.39 3.28">VR2<tspan textLength="14.67" lengthAdjust="spacingAndGlyphs">-</tspan>5</text>
<path class="w" d="M614.2 584.54 L648.4 584.54"/>
<text class="t" transform="translate(712.25 584.54)" font-size="10.5" x="-19.06 -12.7 -8.47 -3.58" y="3.28 1.18 3.28 3.28">D<tspan class="u" textLength="5.79" lengthAdjust="spacingAndGlyphs">_</tspan><tspan class="z">I</tspan>N</text>
<text class="t" transform="translate(725.05 582.74)" font-size="10.5" x="-3.26 3.26" y="0">11</text>
<text class="t" transform="translate(654.6 598.43)" font-size="10.5" x="3.42 10.42 17.26" y="3.28">CH6</text>
<text class="t" transform="translate(641.4 596.63)" font-size="10.5" x="0" y="0">7</text>
<path class="lb" d="M572.6 591.78 L611.1 591.78 L614.2 598.43 L611.1 605.08 L572.6 605.08 Z"/>
<text class="t" transform="translate(575.1 598.43)" font-size="10.5" x="2.93 9.28 15.96 23.45 30.95" y="3.28 3.28 3.28 2.39 3.28">VR2<tspan textLength="14.67" lengthAdjust="spacingAndGlyphs">-</tspan>6</text>
<path class="w" d="M614.2 598.43 L648.4 598.43"/>
<text class="t" transform="translate(712.25 598.43)" font-size="10.5" x="-9.94 -3.26" y="3.28">CS</text>
<path class="w" d="M699.19 592.73 L712.65 592.73"/>
<text class="t" transform="translate(725.05 596.63)" font-size="10.5" x="-3.26 3.26" y="0">1<tspan class="zb">0</tspan></text>
<text class="t" transform="translate(654.6 612.32)" font-size="10.5" x="3.42 10.42 17.26" y="3.28">CH7</text>
<text class="t" transform="translate(641.4 610.52)" font-size="10.5" x="0" y="0">8</text>
<path class="lb" d="M572.6 605.67 L611.1 605.67 L614.2 612.32 L611.1 618.97 L572.6 618.97 Z"/>
<text class="t" transform="translate(575.1 612.32)" font-size="10.5" x="2.93 9.28 15.96 23.45 30.95" y="3.28 3.28 3.28 2.39 3.28">VR2<tspan textLength="14.67" lengthAdjust="spacingAndGlyphs">-</tspan>7</text>
<path class="w" d="M614.2 612.32 L648.4 612.32"/>
<text class="t" transform="translate(712.25 612.32)" font-size="10.5" x="-24.27 -17.43 -10.42 -3.42" y="3.28">DGND</text>
<text class="t" transform="translate(725.05 610.52)" font-size="10.5" x="0" y="0">9</text>
<path class="w" d="M717.85 551.26 L712.25 556.76 L717.85 562.26"/>
<path class="w" d="M717.85 515.09 L773.5 515.09"/>
<circle class="j" cx="745.8" cy="515.09" r="3"/>
<circle class="j" cx="773.5" cy="515.09" r="3"/>
<path class="w" d="M717.85 528.98 L745.8 528.98 L745.8 515.09"/>
<path class="w" d="M717.85 542.87 L745.8 542.87 L745.8 612.32"/>
<path class="w" d="M717.85 612.32 L773.5 612.32"/>
<circle class="j" cx="745.8" cy="612.32" r="3"/>
<circle class="j" cx="773.5" cy="612.32" r="3"/>
<circle class="pc" cx="773.5" cy="494" r="2.75"/>
<path class="w" d="M773.5 496.75 L773.5 612.32"/>
<text class="t b" transform="translate(773.9 490.3)" font-size="7" x="-3.71 0.78 4.5" y="0">+5V</text>
<path class="w" d="M773.5 612.32 L773.5 633.2"/>
<path class="w" d="M766.5 633.2 L780.5 633.2 L773.5 640.2 Z"/>
<path class="cap" d="M762.4 538.4 H784.6 M762.4 546.8 H784.6"/>
<rect x="772" y="539.8" width="3" height="5.6" fill="#fff"/>
<text class="t b" transform="translate(772.3 534.1)" font-size="8.64" x="-15.48 -11.57 -7.66 -2.53" y="0"><tspan class="zb">0</tspan>.1u</text>
<text class="t b" transform="translate(772.5 559.9)" font-size="8.64" x="-7.95 -2.61" y="0">C3</text>
<path class="w" d="M717.85 209.61 L801.3 209.61 L801.3 556.76"/>
<circle class="j" cx="801.3" cy="383.21" r="3"/>
<path class="w" d="M717.85 383.21 L801.3 383.21"/>
<path class="w" d="M717.85 556.76 L926.4 556.76 L926.4 570.4 L1120.8 570.4 L1120.8 535.96 L1086.21 535.96"/>
<circle class="j" cx="801.3" cy="556.76" r="3"/>
<path class="w" d="M717.85 223.5 L815.2 223.5 L815.2 570.65 L717.85 570.65"/>
<path class="w" d="M717.85 397.1 L815.2 397.1"/>
<circle class="j" cx="815.2" cy="397.1" r="3"/>
<path class="w" d="M815.2 535.96 L961.2 535.96"/>
<circle class="j" cx="815.2" cy="535.96" r="3"/>
<path class="w" d="M717.85 237.39 L829.1 237.39 L829.1 584.54 L717.85 584.54"/>
<path class="w" d="M717.85 410.99 L829.1 410.99"/>
<circle class="j" cx="829.1" cy="410.99" r="3"/>
<path class="w" d="M829.1 522.07 L961.2 522.07"/>
<circle class="j" cx="829.1" cy="522.07" r="3"/>
<path class="w" d="M717.85 251.28 L843 251.28 L843 508.18 L961.2 508.18"/>
<path class="w" d="M717.85 424.88 L856.9 424.88 L856.9 494.29 L961.2 494.29"/>
<path class="w" d="M717.85 598.43 L870.75 598.43 L870.75 480.4 L961.2 480.4"/>
<rect class="bx" x="961.2" y="327.5" width="125.01" height="222.24"/>
<text class="t n" transform="translate(1023.71 303)" font-size="12.71" x="-3.91 4.3" y="0">U4</text>
<text class="t n" transform="translate(1023.71 317)" font-size="12.71" x="-42.61 -34.99 -26.78 -18.37 -12.51 -6.65 1.95 9.77 17.59 25.41 33.23 41.83" y="0 0 0 0 0 0 0 -2.54 0 0 0 0">ARDU<tspan class="z">I</tspan>NO<tspan class="u" textLength="6.85" lengthAdjust="spacingAndGlyphs">_</tspan>NANO</text>
<text class="t" transform="translate(967.6 341.5)" font-size="10.5" x="2.61 8.47 14.98" y="3.28">TX1</text>
<text class="t" transform="translate(1080.41 341.5)" font-size="10.5" x="-12.7 -8.47 -3.58" y="3.28">V<tspan class="z">I</tspan>N</text>
<text class="t" transform="translate(947.3 339.7)" font-size="10.5" x="0" y="0">1</text>
<path class="w" d="M933.42 341.5 L961.2 341.5"/>
<path class="w" d="M1086.21 341.5 L1113.99 341.5"/>
<text class="t" transform="translate(967.6 355.39)" font-size="10.5" x="3.42 10.1 16.61" y="3.28">RX<tspan class="zb">0</tspan></text>
<text class="t" transform="translate(1080.41 355.39)" font-size="10.5" x="-17.43 -10.42 -3.42" y="3.28">GND</text>
<text class="t" transform="translate(947.3 353.59)" font-size="10.5" x="0" y="0">2</text>
<path class="w" d="M933.42 355.39 L961.2 355.39"/>
<path class="w" d="M1086.21 355.39 L1113.99 355.39"/>
<text class="t" transform="translate(967.6 369.28)" font-size="10.5" x="3.42 9.94 16.29 22.64 28.34" y="3.28">RESET</text>
<text class="t" transform="translate(1080.41 369.28)" font-size="10.5" x="-27.53 -21.01 -14.66 -8.31 -2.61" y="3.28">RESET</text>
<text class="t" transform="translate(947.3 367.48)" font-size="10.5" x="0" y="0">3</text>
<path class="w" d="M933.42 369.28 L961.2 369.28"/>
<path class="w" d="M1086.21 369.28 L1113.99 369.28"/>
<text class="t" transform="translate(967.6 383.17)" font-size="10.5" x="3.42 10.42 17.43" y="3.28">GND</text>
<text class="t" transform="translate(1080.41 383.17)" font-size="10.5" x="-9.12 -2.93" y="3.28">5V</text>
<text class="t" transform="translate(947.3 381.37)" font-size="10.5" x="0" y="0">4</text>
<path class="w" d="M933.42 383.17 L961.2 383.17"/>
<path class="w" d="M1086.21 383.17 L1113.99 383.17"/>
<text class="t" transform="translate(967.6 397.06)" font-size="10.5" x="3.42 10.1" y="3.28">D2</text>
<text class="t" transform="translate(1080.41 397.06)" font-size="10.5" x="-9.45 -3.26" y="3.28">A7</text>
<text class="t" transform="translate(947.3 395.26)" font-size="10.5" x="0" y="0">5</text>
<path class="w" d="M933.42 397.06 L961.2 397.06"/>
<path class="w" d="M1086.21 397.06 L1113.99 397.06"/>
<text class="t" transform="translate(967.6 410.95)" font-size="10.5" x="3.42 10.1" y="3.28">D3</text>
<text class="t" transform="translate(1080.41 410.95)" font-size="10.5" x="-9.45 -3.26" y="3.28">A6</text>
<text class="t" transform="translate(947.3 409.15)" font-size="10.5" x="0" y="0">6</text>
<path class="w" d="M933.42 410.95 L961.2 410.95"/>
<path class="w" d="M1086.21 410.95 L1113.99 410.95"/>
<text class="t" transform="translate(967.6 424.84)" font-size="10.5" x="3.42 10.1" y="3.28">D4</text>
<text class="t" transform="translate(1080.41 424.84)" font-size="10.5" x="-9.45 -3.26" y="3.28">A5</text>
<text class="t" transform="translate(947.3 423.04)" font-size="10.5" x="0" y="0">7</text>
<path class="w" d="M933.42 424.84 L961.2 424.84"/>
<path class="w" d="M1086.21 424.84 L1113.99 424.84"/>
<text class="t" transform="translate(967.6 438.73)" font-size="10.5" x="3.42 10.1" y="3.28">D5</text>
<text class="t" transform="translate(1080.41 438.73)" font-size="10.5" x="-9.45 -3.26" y="3.28">A4</text>
<text class="t" transform="translate(947.3 436.93)" font-size="10.5" x="0" y="0">8</text>
<path class="w" d="M933.42 438.73 L961.2 438.73"/>
<path class="w" d="M1086.21 438.73 L1113.99 438.73"/>
<text class="t" transform="translate(967.6 452.62)" font-size="10.5" x="3.42 10.1" y="3.28">D6</text>
<text class="t" transform="translate(1080.41 452.62)" font-size="10.5" x="-9.45 -3.26" y="3.28">A3</text>
<text class="t" transform="translate(947.3 450.82)" font-size="10.5" x="0" y="0">9</text>
<path class="w" d="M933.42 452.62 L961.2 452.62"/>
<path class="w" d="M1086.21 452.62 L1113.99 452.62"/>
<text class="t" transform="translate(967.6 466.51)" font-size="10.5" x="3.42 10.1" y="3.28">D7</text>
<text class="t" transform="translate(1080.41 466.51)" font-size="10.5" x="-9.45 -3.26" y="3.28">A2</text>
<text class="t" transform="translate(947.3 464.71)" font-size="10.5" x="-3.26 3.26" y="0">1<tspan class="zb">0</tspan></text>
<path class="w" d="M933.42 466.51 L961.2 466.51"/>
<path class="w" d="M1086.21 466.51 L1113.99 466.51"/>
<text class="t" transform="translate(967.6 480.4)" font-size="10.5" x="3.42 10.1" y="3.28">D8</text>
<text class="t" transform="translate(1080.41 480.4)" font-size="10.5" x="-9.45 -3.26" y="3.28">A1</text>
<text class="t" transform="translate(947.3 478.6)" font-size="10.5" x="-3.26 3.26" y="0">11</text>
<path class="w" d="M933.42 480.4 L961.2 480.4"/>
<path class="w" d="M1086.21 480.4 L1113.99 480.4"/>
<text class="t" transform="translate(967.6 494.29)" font-size="10.5" x="3.42 10.1" y="3.28">D9</text>
<text class="t" transform="translate(1080.41 494.29)" font-size="10.5" x="-9.45 -3.26" y="3.28">A<tspan class="zb">0</tspan></text>
<text class="t" transform="translate(947.3 492.49)" font-size="10.5" x="-3.26 3.26" y="0">12</text>
<path class="w" d="M933.42 494.29 L961.2 494.29"/>
<path class="w" d="M1086.21 494.29 L1113.99 494.29"/>
<text class="t" transform="translate(967.6 508.18)" font-size="10.5" x="3.42 10.1 16.61" y="3.28">D1<tspan class="zb">0</tspan></text>
<text class="t" transform="translate(1080.41 508.18)" font-size="10.5" x="-21.83 -15.47 -8.96 -2.93" y="3.28">AREF</text>
<text class="t" transform="translate(947.3 506.38)" font-size="10.5" x="-3.26 3.26" y="0">13</text>
<path class="w" d="M933.42 508.18 L961.2 508.18"/>
<path class="w" d="M1086.21 508.18 L1113.99 508.18"/>
<text class="t" transform="translate(967.6 522.07)" font-size="10.5" x="3.42 10.1 16.61 23.45 30.95 38.44 45.28 49.84" y="3.28">D11/MOS<tspan class="z">I</tspan></text>
<text class="t" transform="translate(1080.41 522.07)" font-size="10.5" x="-18.89 -14.01 -9.12 -2.93" y="3.28">3.3V</text>
<text class="t" transform="translate(947.3 520.27)" font-size="10.5" x="-3.26 3.26" y="0">14</text>
<path class="w" d="M933.42 522.07 L961.2 522.07"/>
<path class="w" d="M1086.21 522.07 L1113.99 522.07"/>
<text class="t" transform="translate(967.6 535.96)" font-size="10.5" x="3.42 10.1 16.61 23.45 30.95 36.16 40.72 47.56" y="3.28">D12/M<tspan class="z">I</tspan>SO</text>
<text class="t" transform="translate(1080.41 535.96)" font-size="10.5" x="-43.81 -37.14 -30.62 -23.78 -16.94 -10.26 -3.42" y="3.28">D13/SCK</text>
<text class="t" transform="translate(947.3 534.16)" font-size="10.5" x="-3.26 3.26" y="0">15</text>
<path class="w" d="M933.42 535.96 L961.2 535.96"/>
<path class="w" d="M1086.21 535.96 L1113.99 535.96"/>
<path class="lb" d="M884.84 390.41 L916.5 390.41 L919.6 397.06 L916.5 403.71 L884.84 403.71 Z"/>
<text class="t" transform="translate(887.34 397.06)" font-size="10.5" x="3.26 10.42 17.59 24.11" y="3.28">SW11</text>
<path class="w" d="M919.6 397.06 L933.42 397.06"/>
<path class="lb" d="M884.84 404.3 L916.5 404.3 L919.6 410.95 L916.5 417.6 L884.84 417.6 Z"/>
<text class="t" transform="translate(887.34 410.95)" font-size="10.5" x="3.26 10.42 17.59 24.11" y="3.28">SW1<tspan class="zb">0</tspan></text>
<path class="w" d="M919.6 410.95 L933.42 410.95"/>
<path class="lb" d="M891.35 418.19 L916.5 418.19 L919.6 424.84 L916.5 431.49 L891.35 431.49 Z"/>
<text class="t" transform="translate(893.85 424.84)" font-size="10.5" x="3.26 10.42 17.59" y="3.28">SW9</text>
<path class="w" d="M919.6 424.84 L933.42 424.84"/>
<path class="lb" d="M891.35 432.08 L916.5 432.08 L919.6 438.73 L916.5 445.38 L891.35 445.38 Z"/>
<text class="t" transform="translate(893.85 438.73)" font-size="10.5" x="3.26 10.42 17.59" y="3.28">SW8</text>
<path class="w" d="M919.6 438.73 L933.42 438.73"/>
<path class="lb" d="M891.35 445.97 L916.5 445.97 L919.6 452.62 L916.5 459.27 L891.35 459.27 Z"/>
<text class="t" transform="translate(893.85 452.62)" font-size="10.5" x="3.26 10.42 17.59" y="3.28">SW7</text>
<path class="w" d="M919.6 452.62 L933.42 452.62"/>
<path class="lb" d="M891.35 459.86 L916.5 459.86 L919.6 466.51 L916.5 473.16 L891.35 473.16 Z"/>
<text class="t" transform="translate(893.85 466.51)" font-size="10.5" x="3.26 10.42 17.59" y="3.28">SW6</text>
<path class="w" d="M919.6 466.51 L933.42 466.51"/>
<path class="lb" d="M1149.05 418.19 L1123.9 418.19 L1120.8 424.84 L1123.9 431.49 L1149.05 431.49 Z"/>
<text class="t" transform="translate(1125.1 424.84)" font-size="10.5" x="3.26 10.42 17.59" y="3.28">SW5</text>
<path class="w" d="M1113.99 424.84 L1120.8 424.84"/>
<path class="lb" d="M1149.05 432.08 L1123.9 432.08 L1120.8 438.73 L1123.9 445.38 L1149.05 445.38 Z"/>
<text class="t" transform="translate(1125.1 438.73)" font-size="10.5" x="3.26 10.42 17.59" y="3.28">SW4</text>
<path class="w" d="M1113.99 438.73 L1120.8 438.73"/>
<path class="lb" d="M1149.05 445.97 L1123.9 445.97 L1120.8 452.62 L1123.9 459.27 L1149.05 459.27 Z"/>
<text class="t" transform="translate(1125.1 452.62)" font-size="10.5" x="3.26 10.42 17.59" y="3.28">SW3</text>
<path class="w" d="M1113.99 452.62 L1120.8 452.62"/>
<path class="lb" d="M1149.05 459.86 L1123.9 459.86 L1120.8 466.51 L1123.9 473.16 L1149.05 473.16 Z"/>
<text class="t" transform="translate(1125.1 466.51)" font-size="10.5" x="3.26 10.42 17.59" y="3.28">SW2</text>
<path class="w" d="M1113.99 466.51 L1120.8 466.51"/>
<path class="lb" d="M1149.05 473.75 L1123.9 473.75 L1120.8 480.4 L1123.9 487.05 L1149.05 487.05 Z"/>
<text class="t" transform="translate(1125.1 480.4)" font-size="10.5" x="3.26 10.42 17.59" y="3.28">SW1</text>
<path class="w" d="M1113.99 480.4 L1120.8 480.4"/>
<path class="lb" d="M1149.05 487.64 L1123.9 487.64 L1120.8 494.29 L1123.9 500.94 L1149.05 500.94 Z"/>
<text class="t" transform="translate(1125.1 494.29)" font-size="10.5" x="3.26 10.42 17.59" y="3.28">SW<tspan class="zb">0</tspan></text>
<path class="w" d="M1113.99 494.29 L1120.8 494.29"/>
<path class="w" d="M933.42 341.5 L912.5 341.5 L912.5 265.1 L933.2 265.1"/>
<rect class="rs" x="933.2" y="259.55" width="41.67" height="11.11"/>
<text class="t b" transform="translate(954.05 256.7)" font-size="8.64" x="-2.61 2.74" y="0">R1</text>
<text class="t b" transform="translate(954.05 265.3)" font-size="8.64" x="-5.21 -0 5.21" y="2.6">47<tspan class="zb">0</tspan></text>
<path class="w" d="M974.87 265.1 L1169.2 265.1"/>
<circle class="j" cx="995.8" cy="265.1" r="3"/>
<path class="w" d="M995.8 265.1 L995.8 285.95 L1009.8 285.95"/>
<rect class="rs" x="1009.8" y="280.4" width="41.67" height="11.11"/>
<text class="t b" transform="translate(1030.65 277.5)" font-size="8.64" x="-2.61 2.74" y="0">R2</text>
<text class="t b" transform="translate(1030.65 286.15)" font-size="8.64" x="-2.22 2.61" y="2.6">1k</text>
<path class="w" d="M1051.47 285.95 L1086.4 285.95 L1086.4 292.95 L1169.2 292.95"/>
<circle class="j" cx="1092.9" cy="292.95" r="3"/>
<circle class="j" cx="1134.6" cy="292.95" r="3"/>
<path class="w" d="M1092.9 292.95 L1092.9 237.3 L1116.7 237.3"/>
<path class="w" d="M1125.1 237.3 L1169.2 237.3"/>
<circle class="j" cx="1155.5" cy="237.3" r="3"/>
<path class="cap" d="M1116.7 226.2 V248.4 M1125.1 226.2 V248.4"/>
<text class="t b" transform="translate(1109.2 237.7) rotate(-90)" font-size="8.64" x="2.74 8.08" y="0">C4</text>
<text class="t b" transform="translate(1135 235.8) rotate(-90)" font-size="8.64" x="2.61 6.52 10.42 15.56" y="0"><tspan class="zb">0</tspan>.1u</text>
<path class="w" d="M1155.5 237.3 L1155.5 522.07 L1113.99 522.07"/>
<path class="w" d="M1113.99 355.39 L1134.6 355.39"/>
<circle class="j" cx="1134.6" cy="355.39" r="3"/>
<path class="w" d="M1134.6 292.95 L1134.6 397.4"/>
<path class="w" d="M1127.6 397.4 L1141.6 397.4 L1134.6 404.4 Z"/>
<path class="w" d="M1113.99 383.17 L1183.3 383.17"/>
<circle class="pc" cx="1183.3" cy="348.6" r="2.75"/>
<path class="w" d="M1183.3 351.35 L1183.3 383.17"/>
<text class="t b" transform="translate(1183.7 344.9)" font-size="7" x="-3.71 0.78 4.5" y="0">+5V</text>
<path class="lb" d="M1169.2 229.6 L1247.52 229.6 L1250.82 237.3 L1247.52 245 L1169.2 245 Z"/>
<text class="t n" transform="translate(1172.6 237.3)" font-size="12.71" x="4.1 12.51 21.89 30.88 38.7 45.74 52.38 60 68.21" y="4.08 4.08 3 4.08 4.08 4.08 4.08 4.08 4.08">RN<tspan textLength="17.18" lengthAdjust="spacingAndGlyphs">-</tspan>42 VDD</text>
<path class="lb" d="M1169.2 257.4 L1240.09 257.4 L1243.39 265.1 L1240.09 272.8 L1169.2 272.8 Z"/>
<text class="t n" transform="translate(1172.6 265.1)" font-size="12.71" x="4.1 12.51 21.89 30.88 38.7 45.74 52.97 60.98" y="4.08 4.08 3 4.08 4.08 4.08 4.08 4.08">RN<tspan textLength="17.18" lengthAdjust="spacingAndGlyphs">-</tspan>42 RX</text>
<path class="lb" d="M1169.2 285.25 L1249.08 285.25 L1252.38 292.95 L1249.08 300.65 L1169.2 300.65 Z"/>
<text class="t n" transform="translate(1172.6 292.95)" font-size="12.71" x="4.1 12.51 21.89 30.88 38.7 45.74 52.97 61.37 69.78" y="4.08 4.08 3 4.08 4.08 4.08 4.08 4.08 4.08">RN<tspan textLength="17.18" lengthAdjust="spacingAndGlyphs">-</tspan>42 GND</text>
<text class="t n" transform="translate(1017.2 596.5)" font-size="12.71" x="4.3 12 19 25.72 32.37 39.79 46.83 53.75 61.33 68.92 75.84 82.48 89.91 96.94 101.64 106.99 114.18 119.93 125.87 133.26 140.84 147.76 154.68 160.82 166.29 172.94 180.36 187.4 194.32 201.9 209.49 216.4 223.05 230.48" y="0">Use A6 and A7 <tspan class="z">i</tspan>ns<tspan class="z">t</tspan>ead o<tspan class="z">f</tspan> A<tspan class="zb">0</tspan> and A1</text>
<text class="t n" transform="translate(1017.2 608.7)" font-size="12.71" x="4.3 12.39 19.78 27.17 34.09 41.01 48.2 53.16 58.52 66.1 73.02 79.67 85.73 92.06 99.64 105 110.35 117.94 124.85 132.28 140.37 147.96 155.54 162.46 168.71 175.44 181.58 187.52 192.48 197.84 205.42 212.34 219.38 225.24" y="0"><tspan class="z">w</tspan>hen us<tspan class="z">i</tspan>ng A<tspan class="z">r</tspan>du<tspan class="z">i</tspan>no Nano ve<tspan class="z">r</tspan>s<tspan class="z">i</tspan>on 2.</text>
</svg>
</body></html>
